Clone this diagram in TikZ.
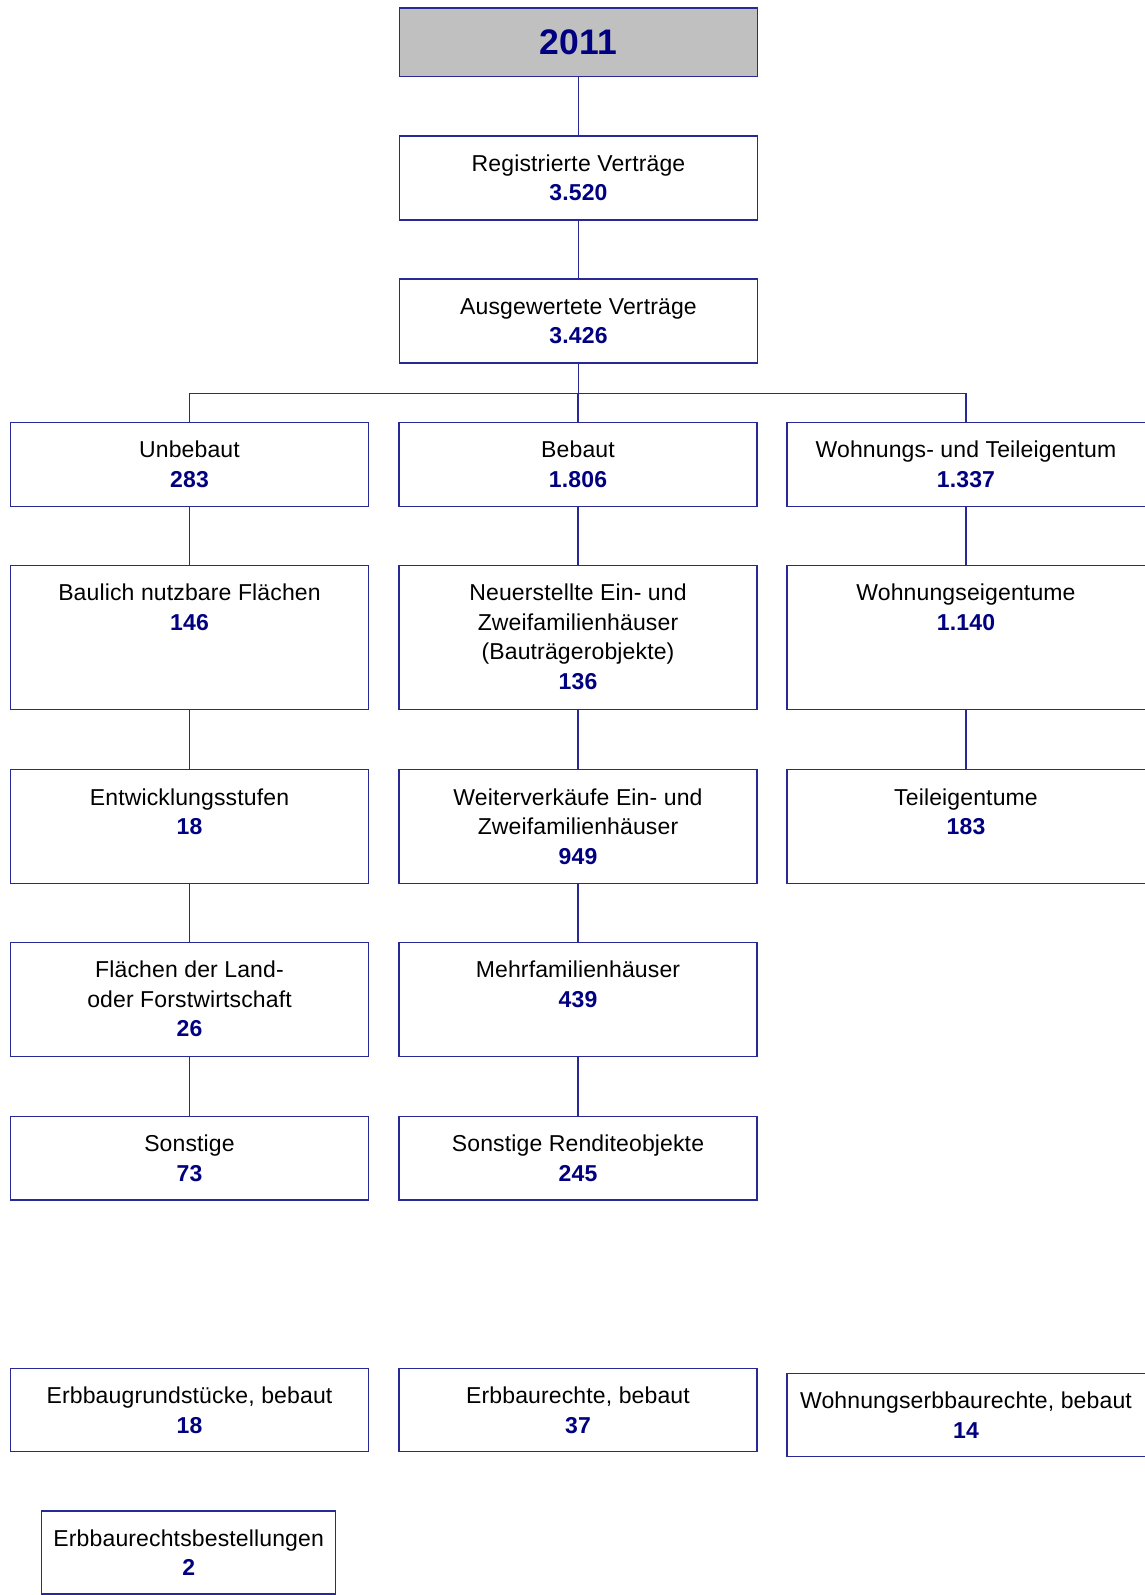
\documentclass[tikz,border=0pt]{standalone}
\usepackage{fontspec}
\setmainfont{Liberation Sans}[LetterSpace=0.6]
\definecolor{lc}{RGB}{40,40,150}
\definecolor{numc}{RGB}{0,0,128}
\definecolor{hdr}{RGB}{192,192,192}
\newcommand\num[1]{{\color{numc}\bfseries #1}}
\newcommand\fl{\rule{0pt}{20pt}}
\tikzset{
  box/.style={draw=lc, line width=1.3, inner sep=0, minimum width=358},
  rbox/.style={box, minimum width=364},
  txt/.style={anchor=north, inner sep=0, align=center, font=\fontsize{23}{29.5}\selectfont},
  conn/.style={draw=lc, line width=1.3}
}
\begin{document}
\begin{tikzpicture}[x=1pt,y=-1pt]
\useasboundingbox (0,0) rectangle (1144,1595);
% top
\node[box, fill=hdr, minimum height=68.7, font=\fontsize{35.5}{40}\selectfont\bfseries, text=numc] (year) at (578.5,42.35) {2011};
\node[box, minimum height=84] (reg) at (578.5,178) {};
\node[txt] (regt) at (578.5,151) {\fl Registrierte Verträge\\ \num{3.520}};
\node[box, minimum height=84] (ausg) at (578.5,321) {};
\node[txt] (ausgt) at (578.5,294) {\fl Ausgewertete Verträge\\ \num{3.426}};
% row A
\node[box, minimum height=84.4] (unb) at (189.5,464.5) {};
\node[txt] (unbt) at (189.5,437.3) {\fl Unbebaut\\ \num{283}};
\node[box, minimum height=84.4] (beb) at (578,464.5) {};
\node[txt] (bebt) at (578,437.3) {\fl Bebaut\\ \num{1.806}};
\node[rbox, minimum height=84.4] (woh) at (969,464.5) {};
\node[txt] (woht) at (966,437.3) {\fl Wohnungs- und Teileigentum\\ \num{1.337}};
% row B
\node[box, minimum height=144.4] (bau) at (189.5,637.6) {};
\node[txt] (baut) at (189.5,580.4) {\fl Baulich nutzbare Flächen\\ \num{146}};
\node[box, minimum height=144.4] (neu) at (578,637.6) {};
\node[txt] (neut) at (578,580.4) {\fl Neuerstellte Ein- und\\ Zweifamilienhäuser\\ (Bauträgerobjekte)\\ \num{136}};
\node[rbox, minimum height=144.4] (we) at (969,637.6) {};
\node[txt] (wet) at (966,580.4) {\fl Wohnungseigentume\\ \num{1.140}};
% row C
\node[box, minimum height=113.9] (ent) at (189.5,826.75) {};
\node[txt] (entt) at (189.5,784.8) {\fl Entwicklungsstufen\\ \num{18}};
\node[box, minimum height=113.9] (wei) at (578,826.75) {};
\node[txt] (weit) at (578,784.8) {\fl Weiterverkäufe Ein- und\\ Zweifamilienhäuser\\ \num{949}};
\node[rbox, minimum height=113.9] (tei) at (969,826.75) {};
\node[txt] (teit) at (966,784.8) {\fl Teileigentume\\ \num{183}};
% row D
\node[box, minimum height=113.9] (fla) at (189.5,999.65) {};
\node[txt] (flat) at (189.5,957.7) {\fl Flächen der Land-\\ oder Forstwirtschaft\\ \num{26}};
\node[box, minimum height=113.9] (meh) at (578,999.65) {};
\node[txt] (meht) at (578,957.7) {\fl Mehrfamilienhäuser\\ \num{439}};
% row E
\node[box, minimum height=83.4] (son) at (189.5,1158.3) {};
\node[txt] (sont) at (189.5,1131.6) {\fl Sonstige\\ \num{73}};
\node[box, minimum height=83.4] (ren) at (578,1158.3) {};
\node[txt] (rent) at (578,1131.6) {\fl Sonstige Renditeobjekte\\ \num{245}};
% row F
\node[box, minimum height=83.4] (ebg) at (189.5,1410) {};
\node[txt] (ebgt) at (189.5,1383.3) {\fl Erbbaugrundstücke, bebaut\\ \num{18}};
\node[box, minimum height=83.4] (ebr) at (578,1410) {};
\node[txt] (ebrt) at (578,1383.3) {\fl Erbbaurechte, bebaut\\ \num{37}};
\node[rbox, minimum height=83.4] (web) at (969,1415) {};
\node[txt] (webt) at (966,1388.3) {\fl Wohnungserbbaurechte, bebaut\\ \num{14}};
% row G
\node[box, minimum width=294, minimum height=83] (ebb) at (188.7,1552.5) {};
\node[txt] (ebbt) at (188.7,1526) {\fl Erbbaurechtsbestellungen\\ \num{2}};
% connectors
\draw[conn] (year.south) -- (reg.north);
\draw[conn] (reg.south) -- (ausg.north);
\coordinate (bus) at (578.5,393.7);
\draw[conn] (ausg.south) -- (bus);
\draw[conn] (unb.north) |- (bus) -| (woh.north -| woht);
\draw[conn] (beb.north) -- (beb.north |- bus);
\draw[conn] (unb.south) -- (bau.north);
\draw[conn] (bau.south) -- (ent.north);
\draw[conn] (ent.south) -- (fla.north);
\draw[conn] (fla.south) -- (son.north);
\draw[conn] (beb.south) -- (neu.north);
\draw[conn] (neu.south) -- (wei.north);
\draw[conn] (wei.south) -- (meh.north);
\draw[conn] (meh.south) -- (ren.north);
\draw[conn] (woh.south -| woht) -- (we.north -| wet);
\draw[conn] (we.south -| wet) -- (tei.north -| teit);
\end{tikzpicture}
\end{document}
